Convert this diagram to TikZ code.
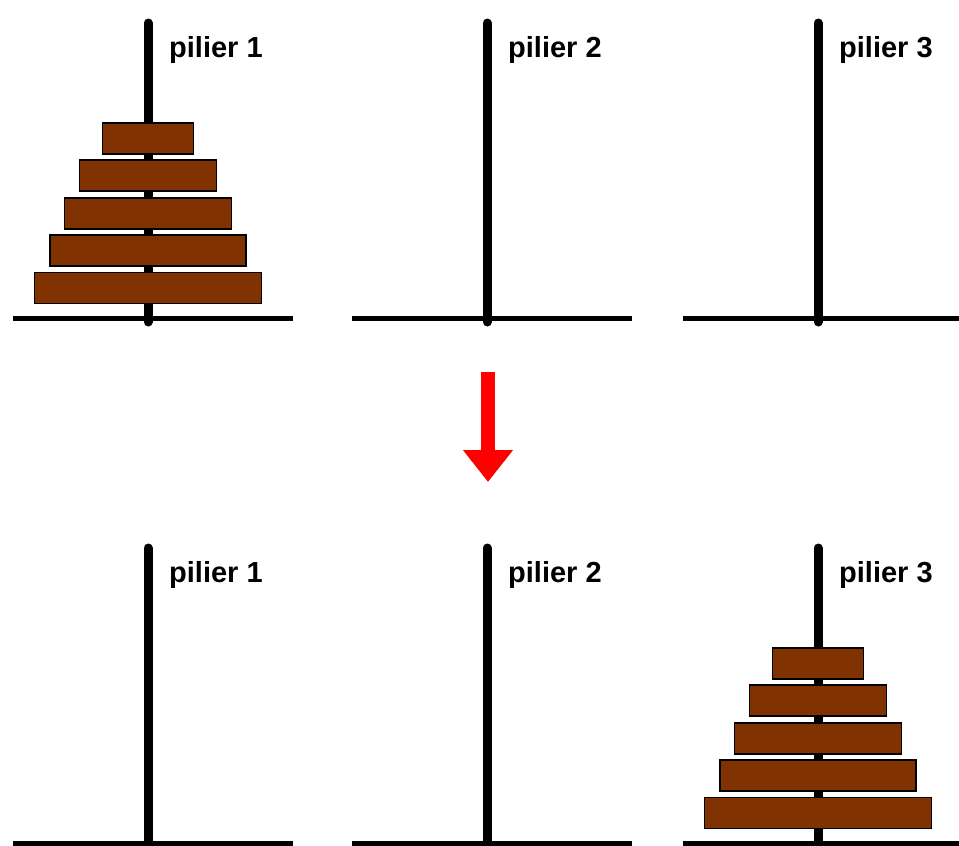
\documentclass[tikz,border=0pt]{standalone}
\usepackage{fontspec}
\setsansfont{Liberation Sans}
\usepackage{tikz}
\usetikzlibrary{arrows.meta}
\definecolor{disk brown}{RGB}{128,51,0}
\definecolor{move red}{RGB}{255,0,0}
\tikzset{
  hanoi peg/.style={
    line width=9pt,
    line cap=round,
    draw=black,
  },
  hanoi base/.style={
    line width=5pt,
    draw=black,
  },
  hanoi disk/.style={
    rectangle,
    minimum height=31pt,
    draw=black,
    line width=1.5pt,
    fill=disk brown,
    inner sep=0pt,
  },
  hanoi label/.style={
    anchor=base west,
    inner sep=0pt,
    font=\sffamily\bfseries\fontsize{29}{29}\selectfont,
  },
  move arrow/.style={-{Triangle[length=32pt,width=48pt]}, line width=14pt, draw=move red},
}

\begin{document}
\begin{tikzpicture}[x=1pt, y=-1pt]
  \useasboundingbox (0,0) rectangle (959,846);
  % pegs, bases and labels, before (a) and after (b)
  \foreach \row/\dy in {a/0, b/525} {
    \foreach \p/\px in {1/148, 2/487, 3/818} {
      \coordinate (\row peg\p top) at (\px, 23+\dy);
      \coordinate (\row peg\p bottom) at (\px, 322+\dy);
      \coordinate (\row base\p west) at (\px-135, 318+\dy);
      \coordinate (\row base\p east) at (\px+145, 318+\dy);
      \draw[hanoi base] (\row base\p west) -- (\row base\p east);
      \draw[hanoi peg] (\row peg\p top) -- (\row peg\p bottom);
      \node[hanoi label] (\row label\p) at (\px+21, 57+\dy) {pilier \p};
    }
  }
  % the five disks, on pilier 1 then on pilier 3
  \foreach \row/\dy/\px in {a/0/148, b/525/818} {
    \foreach \d/\w/\y in {1/91/138.5, 2/137/175.5, 3/167/213.5, 4/196/250.5, 5/227/288} {
      \node[hanoi disk, minimum width=\w pt] (\row disk\d) at (\px, \y+\dy) {};
    }
  }
  \coordinate (arrow top) at (488,372);
  \coordinate (arrow tip) at (488,482);
  \draw[move arrow] (arrow top) -- (arrow tip);
\end{tikzpicture}
\end{document}
